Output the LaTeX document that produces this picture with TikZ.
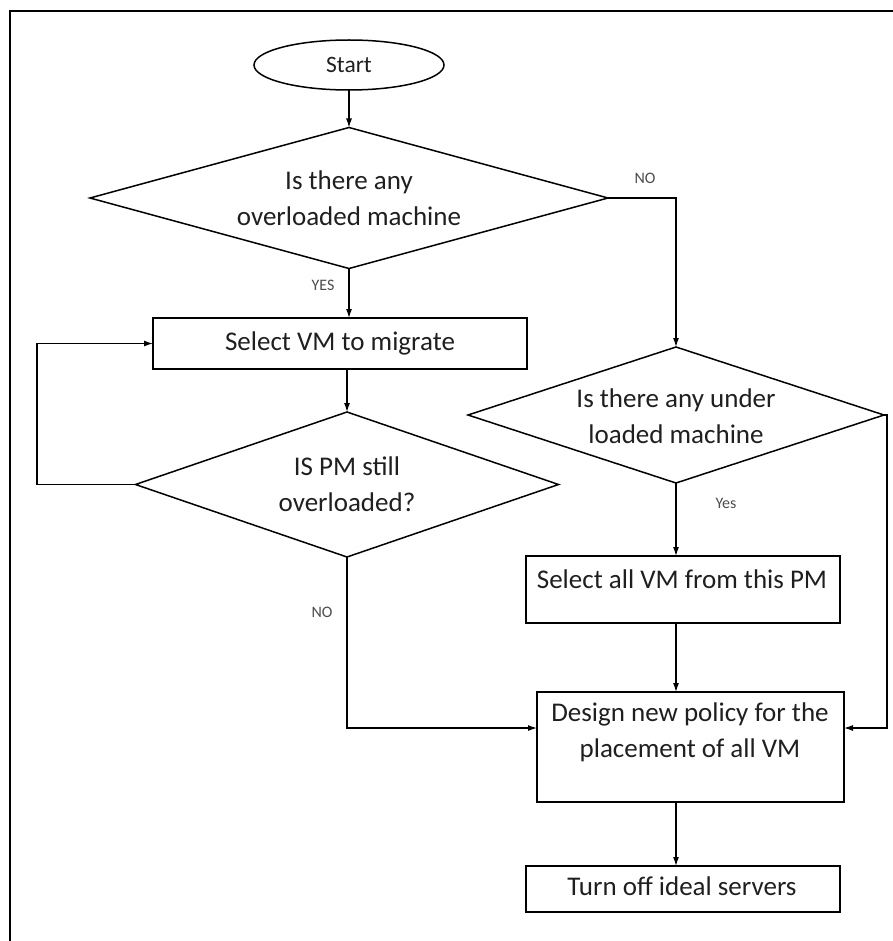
\documentclass[tikz,border=0pt]{standalone}
\usepackage{fontspec}
\setmainfont{Carlito}
\usetikzlibrary{shapes.geometric,arrows.meta}

\tikzset{
  flow/.style={line width=1.2pt, draw=black},
  arr/.style={flow, -{Latex[length=9pt,width=6pt]}},
  procbox/.style={draw=black, line width=1.5pt, rectangle, inner sep=0pt, outer sep=0pt},
  decision/.style={draw=black, line width=1.5pt, diamond, inner sep=0pt, outer sep=0pt},
  terminal/.style={draw=black, line width=1.5pt, ellipse, inner sep=0pt, outer sep=0pt, font=\fontsize{23.5}{26}\selectfont, text=black!88},
  maintext/.style={inner sep=0pt, font=\fontsize{27}{36}\selectfont, align=center, text=black!88},
  branch/.style={inner sep=0pt, font=\fontsize{16}{18}\selectfont, text=black!70},
}

\begin{document}
\begin{tikzpicture}[x=1pt, y=-1pt]
  \useasboundingbox (0,0) rectangle (892,941);
  % outer frame, running off the page on the right and at the bottom
  \draw[line width=2pt] (10,960) -- (10,11) -- (900,11);

  % nodes
  \node[terminal, minimum width=190pt, minimum height=50pt] (start) at (349,65) {Start};
  \node[decision, minimum width=518pt, minimum height=141pt] (d1) at (349,198) {};
  \node[maintext] (d1t) at (349,198) {Is there any\\overloaded machine};

  \node[procbox, minimum width=374pt, minimum height=51pt] (sel) at (340,343.5) {};
  \node[maintext] (selt) at (340,343) {Select VM to migrate};

  \node[decision, minimum width=423pt, minimum height=145pt] (d3) at (347,484.5) {};
  \node[maintext] (d3t) at (347,484) {IS PM still\\overloaded?};

  \node[decision, minimum width=416pt, minimum height=136pt] (d2) at (676,415) {};
  \node[maintext] (d2t) at (676,416) {Is there any under\\loaded machine};

  \node[procbox, minimum width=314pt, minimum height=67pt] (selall) at (683,589.5) {};
  \node[maintext] (selallt) at (682,579) {Select all VM from this PM};

  \node[procbox, minimum width=307pt, minimum height=110pt] (design) at (690.5,747) {};
  \node[maintext] (designt) at (690,732) {Design new policy for the\\placement of all VM};

  \node[procbox, minimum width=314pt, minimum height=46pt] (turnoff) at (683,889) {};
  \node[maintext] (turnofft) at (682,886) {Turn off ideal servers};

  % branch labels
  \node[branch] (lno1) at (645,178) {NO};
  \node[branch] (lyes1) at (323,285) {YES};
  \node[branch] (lyes2) at (726,503) {Yes};
  \node[branch] (lno2) at (322,612) {NO};

  % helper points for the bends
  \coordinate (loopx) at (37,484.5);
  \coordinate (rightx) at (887,415);
  \coordinate (dinw) at (537,728);
  \coordinate (dine) at (844,728);

  % connectors
  \draw[arr] (start) -- (d1.north);
  \draw[arr] (d1.east) -| (d2.north);
  \draw[arr] (d1.south) -- (d1.south |- sel.north);
  \draw[arr] (d3.north |- sel.south) -- (d3.north);
  \draw[arr] (d3.west) -- (loopx) |- (sel.west);
  \draw[arr] (d3.south) |- (dinw);
  \draw[arr] (d2.south) -- (d2.south |- selall.north);
  \draw[arr] (d2.east) -- (rightx) |- (dine);
  \draw[arr] (d2.south |- selall.south) -- (d2.south |- design.north);
  \draw[arr] (d2.south |- design.south) -- (d2.south |- turnoff.north);
\end{tikzpicture}
\end{document}
